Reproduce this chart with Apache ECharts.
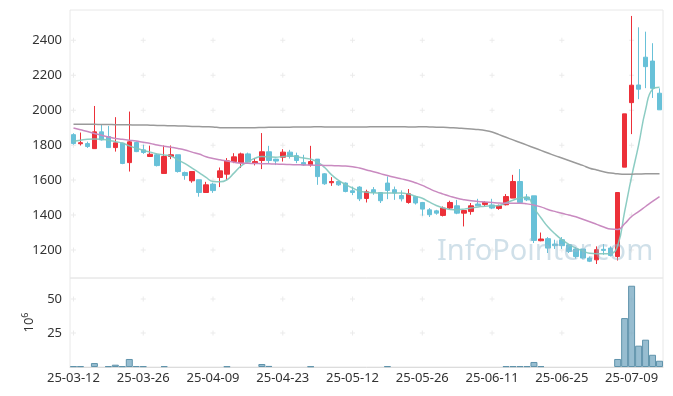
<!DOCTYPE html>
<html><head><meta charset="utf-8">
<script src="https://cdn.jsdelivr.net/npm/echarts@6/dist/echarts.min.js"></script>
<style>html,body{margin:0;padding:0;background:#fff}#c{width:673px;height:396px}</style>
</head><body><div id="c"></div>
<script>
const dates = ['25-03-12','25-03-13','25-03-14','25-03-17','25-03-18','25-03-19','25-03-20','25-03-21','25-03-24','25-03-25',
'25-03-26','25-03-27','25-03-28','25-03-31','25-04-01','25-04-02','25-04-03','25-04-04','25-04-07','25-04-08',
'25-04-09','25-04-10','25-04-11','25-04-14','25-04-15','25-04-16','25-04-17','25-04-18','25-04-21','25-04-22',
'25-04-23','25-04-24','25-04-25','25-04-28','25-04-29','25-04-30','25-05-02','25-05-07','25-05-08','25-05-09',
'25-05-12','25-05-13','25-05-14','25-05-15','25-05-16','25-05-19','25-05-20','25-05-21','25-05-22','25-05-23',
'25-05-26','25-05-27','25-05-28','25-05-29','25-05-30','25-06-02','25-06-04','25-06-05','25-06-09','25-06-10',
'25-06-11','25-06-12','25-06-13','25-06-16','25-06-17','25-06-18','25-06-19','25-06-20','25-06-23','25-06-24',
'25-06-25','25-06-26','25-06-27','25-06-30','25-07-01','25-07-02','25-07-03','25-07-04','25-07-07','25-07-08',
'25-07-09','25-07-10','25-07-11','25-07-14','25-07-15'];
const opens = [1860,1808,1809,1780,1876,1849,1786,1811,1700,1815,
1773,1735,1745,1638,1735,1745,1643,1596,1602,1529,
1577,1615,1634,1706,1700,1750,1697,1712,1762,1720,
1731,1760,1740,1700,1687,1720,1636,1585,1592,1583,
1539,1560,1495,1545,1529,1583,1545,1512,1472,1506,
1472,1430,1424,1398,1440,1453,1411,1420,1463,1461,
1458,1438,1459,1497,1592,1503,1510,1253,1265,1234,
1259,1230,1206,1206,1154,1144,1204,1211,1163,1674,
2043,2144,2303,2281,2097];
const closes = [1809,1814,1792,1876,1830,1786,1813,1695,1819,1763,
1758,1748,1683,1735,1745,1649,1626,1649,1529,1573,
1540,1653,1710,1733,1750,1703,1706,1762,1712,1709,
1760,1735,1712,1687,1706,1620,1579,1592,1573,1535,
1529,1493,1533,1529,1482,1541,1526,1493,1522,1469,
1434,1402,1411,1440,1472,1411,1426,1453,1453,1472,
1440,1453,1506,1592,1472,1487,1255,1263,1211,1225,
1225,1192,1163,1154,1136,1202,1198,1169,1529,1979,
2143,2120,2249,2125,2002];
const lows = [1803,1798,1784,1780,1826,1785,1763,1691,1649,1760,
1750,1732,1678,1638,1720,1643,1602,1585,1505,1529,
1527,1560,1600,1697,1669,1700,1684,1663,1693,1686,
1706,1723,1697,1682,1677,1573,1573,1567,1567,1530,
1514,1480,1472,1516,1469,1491,1487,1478,1465,1460,
1396,1389,1402,1392,1434,1405,1335,1402,1453,1450,
1434,1430,1455,1497,1465,1480,1240,1250,1183,1206,
1206,1183,1151,1150,1131,1120,1173,1163,1140,1674,
1863,2063,2126,2070,2002];
const highs = [1868,1872,1820,2024,1916,1910,1960,1813,1992,1821,
1802,1797,1750,1798,1798,1745,1649,1649,1602,1590,
1585,1672,1726,1754,1757,1757,1725,1869,1796,1722,
1777,1773,1757,1745,1796,1720,1640,1617,1592,1587,
1563,1565,1545,1560,1530,1621,1563,1541,1549,1510,
1475,1440,1430,1449,1482,1487,1430,1469,1493,1480,
1493,1460,1520,1630,1663,1520,1510,1300,1274,1259,
1274,1232,1217,1206,1163,1221,1234,1221,1529,1979,
2539,2474,2449,2383,2125];
const maShort = [1821,1828,1834,1835,1834,1828,1820,1812,1796,1782,
1770,1760,1750,1744,1737,1715,1694,1668,1643,1615,
1592,1590,1602,1640,1680,1705,1725,1735,1733,1731,
1735,1739,1733,1726,1720,1703,1672,1630,1598,1575,
1555,1538,1530,1527,1526,1526,1526,1526,1520,1508,
1496,1475,1455,1440,1432,1431,1434,1440,1446,1451,
1452,1455,1470,1485,1498,1502,1440,1385,1333,1293,
1259,1232,1211,1195,1181,1179,1179,1180,1225,1420,
1620,1800,2002,2120,2131];
const maMid = [1898,1888,1878,1867,1857,1847,1838,1833,1828,1823,
1816,1810,1801,1794,1788,1781,1772,1760,1749,1734,
1724,1716,1709,1702,1697,1696,1695,1694,1693,1692,
1690,1689,1688,1687,1686,1685,1684,1683,1682,1680,
1677,1669,1658,1648,1637,1626,1616,1607,1598,1585,
1570,1551,1534,1520,1507,1496,1488,1482,1478,1475,
1472,1469,1468,1468,1468,1464,1457,1447,1432,1421,
1410,1400,1390,1376,1362,1347,1332,1320,1318,1350,
1392,1420,1449,1478,1506];
const maLong = [1920,1920,1919,1919,1918,1918,1917,1917,1916,1915,
1915,1914,1913,1912,1911,1910,1909,1907,1906,1905,
1904,1900,1899,1899,1899,1900,1900,1901,1902,1902,
1903,1903,1904,1904,1904,1905,1904,1904,1904,1904,
1904,1904,1904,1905,1905,1905,1905,1905,1904,1904,
1905,1904,1903,1902,1900,1898,1895,1892,1889,1884,
1875,1860,1845,1830,1815,1800,1785,1770,1755,1740,
1726,1712,1698,1684,1668,1658,1648,1640,1636,1634,
1634,1635,1636,1636,1636];
const volumes = [0.6,0.6,null,2.9,null,0.6,1.7,0.6,5.9,0.7,
0.6,null,null,0.6,null,null,null,null,null,null,
null,null,0.5,null,null,null,null,2.2,0.8,null,
null,null,null,null,0.5,null,null,null,null,null,
null,null,null,null,null,0.6,null,null,null,null,
null,null,null,null,null,null,null,null,null,null,
null,null,0.6,0.6,0.6,0.6,3.7,0.6,null,null,
null,null,null,null,null,null,null,null,5.9,36.0,
59.8,15.7,20.1,9.0,4.6];
const priceTicks = [1200,1400,1600,1800,2000,2200,2400];
const volumeTicks = [25,50];
const labelEvery = 10;

const UP = '#ec3039', DOWN = '#68c1d8';
const FONT = 'Noto Sans';
const labelDates = dates.filter((d,i)=>i%labelEvery===0);
const crossPrice = [], crossVol = [];
labelDates.forEach(d=>{priceTicks.forEach(v=>crossPrice.push([d,v])); volumeTicks.forEach(v=>crossVol.push([d,v]));});
const plus = 'path://M4,0 H6 V4 H10 V6 H6 V10 H4 V6 H0 V4 H4 Z';

const chart = echarts.init(document.getElementById('c'));
chart.setOption({
  animation:false,
  backgroundColor:'#fff',
  textStyle:{fontFamily:FONT},
  grid:[
    {left:70,right:10,top:10,height:268,show:true,borderColor:'#e8e8e8',borderWidth:1,backgroundColor:'transparent'},
    {left:70,right:10,top:278,height:89,show:true,borderColor:'#e8e8e8',borderWidth:1,backgroundColor:'transparent'}
  ],
  xAxis:[
    {type:'category',gridIndex:0,data:dates,boundaryGap:true,axisLine:{show:false},axisTick:{show:false},axisLabel:{show:false},splitLine:{show:false}},
    {type:'category',gridIndex:1,data:dates,boundaryGap:true,axisLine:{show:true,lineStyle:{color:'#dcdcdc'}},axisTick:{show:false},
     axisLabel:{interval:labelEvery-1,color:'#333',fontSize:13,fontFamily:FONT,margin:5},splitLine:{show:false}}
  ],
  yAxis:[
    {type:'value',gridIndex:0,min:1040,max:2573,axisLine:{show:false},axisTick:{show:false},splitLine:{show:false},
     axisLabel:{customValues:priceTicks,formatter:v=>String(v),color:'#333',fontSize:13,fontFamily:FONT,margin:8}},
    {type:'value',gridIndex:1,min:0,max:65.5,axisLine:{show:false},axisTick:{show:false},splitLine:{show:false},
     axisLabel:{customValues:volumeTicks,formatter:v=>String(v),color:'#333',fontSize:13,fontFamily:FONT,margin:8},
     name:'{a|10}{b|6}',nameLocation:'middle',nameRotate:90,nameGap:27,
     nameTextStyle:{rich:{a:{fontSize:13,color:'#333',fontFamily:FONT},b:{fontSize:9,color:'#333',fontFamily:FONT,verticalAlign:'top',padding:[0,0,8,0]}}}}
  ],
  series:[
    {type:'scatter',xAxisIndex:0,yAxisIndex:0,data:crossPrice,symbol:plus,symbolSize:5,itemStyle:{color:'#e6e6e6'},silent:true,z:0},
    {type:'scatter',xAxisIndex:1,yAxisIndex:1,data:crossVol,symbol:plus,symbolSize:5,itemStyle:{color:'#e6e6e6'},silent:true,z:0},
    {type:'candlestick',xAxisIndex:0,yAxisIndex:0,barWidth:5,
     data:dates.map((d,i)=>[opens[i],closes[i],lows[i],highs[i]]),
     itemStyle:{color:UP,color0:DOWN,borderColor:UP,borderColor0:DOWN,borderWidth:1},z:3},
    {type:'line',xAxisIndex:0,yAxisIndex:0,data:maShort,showSymbol:false,smooth:true,lineStyle:{color:'#7fc6bd',width:1.5,opacity:0.9},z:4},
    {type:'line',xAxisIndex:0,yAxisIndex:0,data:maMid,showSymbol:false,smooth:true,lineStyle:{color:'#c98ac0',width:1.5},z:4},
    {type:'line',xAxisIndex:0,yAxisIndex:0,data:maLong,showSymbol:false,smooth:true,lineStyle:{color:'#9a9a9a',width:1.5},z:4},
    {type:'bar',xAxisIndex:1,yAxisIndex:1,data:volumes,barCategoryGap:'0%',itemStyle:{color:'rgba(125,172,196,0.8)',borderColor:'#5f93ab',borderWidth:1}}
  ],
  graphic:[{type:'text',left:437,top:237,z:10,silent:true,
    style:{text:'InfoPointer.com',fontSize:29,fontFamily:FONT,fill:'rgba(150,186,206,0.45)'}}]
});
</script></body></html>
